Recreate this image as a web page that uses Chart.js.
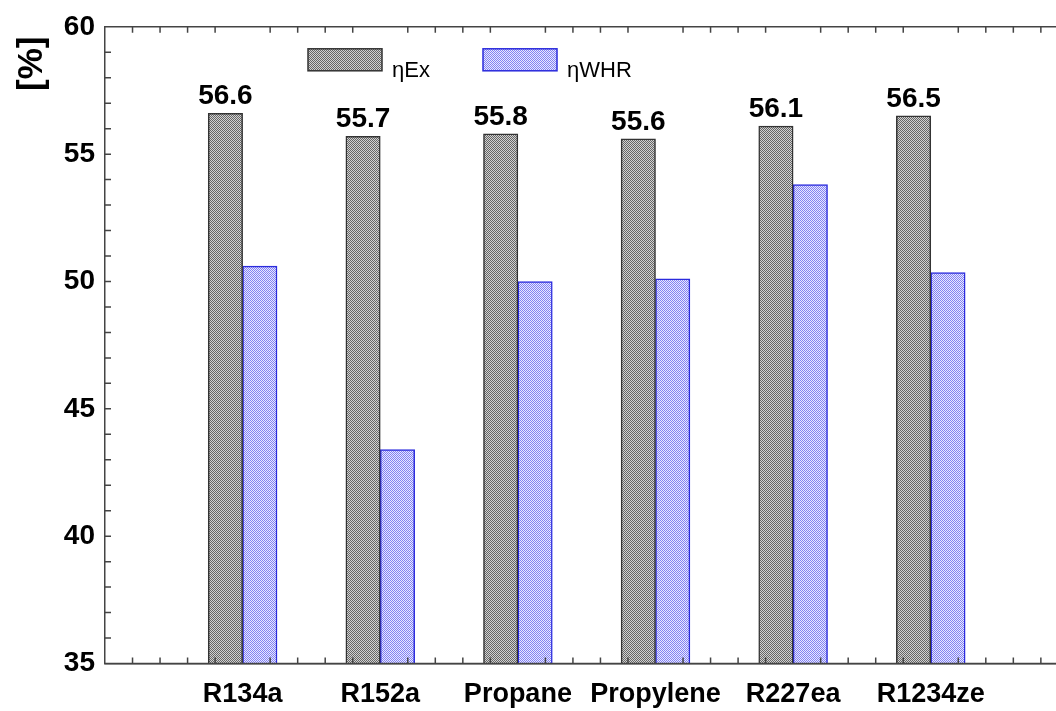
<!DOCTYPE html>
<html>
<head>
<meta charset="utf-8">
<script src="https://cdn.jsdelivr.net/npm/chart.js@4/dist/chart.umd.min.js"></script>
<style>
  html, body { margin: 0; padding: 0; background: #fff; overflow: hidden; }
</style>
</head>
<body>
<canvas id="myChart" width="1056" height="711"></canvas>
<script>
// data
const categories = ['R134a', 'R152a', 'Propane', 'Propylene', 'R227ea', 'R1234ze'];
const exergyEff = [56.6, 55.7, 55.8, 55.6, 56.1, 56.5];
const whrEff = [50.6, 43.4, 50.0, 50.1, 53.8, 50.35];
const seriesNames = ['ηEx', 'ηWHR'];
const yLabels = [35, 40, 45, 50, 55, 60];

const yMin = 35, yMax = 60;
const xMax = 6.91; // axis runs past the last group, picture is cropped on the right
const xMinorTicks = [];
for (let k = 1; k <= 34; k++) xMinorTicks.push(k / 5);

const axisColor = '#444';
const fontFam = '"Liberation Sans", Arial, sans-serif';
Chart.defaults.font.family = fontFam;

const canvas = document.getElementById('myChart');
const ctx = canvas.getContext('2d');

function checker(dark, light) {
    const c = document.createElement('canvas');
    c.width = 2; c.height = 2;
    const g = c.getContext('2d');
    g.fillStyle = light; g.fillRect(0, 0, 2, 2);
    g.fillStyle = dark; g.fillRect(0, 0, 1, 1); g.fillRect(1, 1, 1, 1);
    return ctx.createPattern(c, 'repeat');
}

const isWhole = v => Math.abs(v - Math.round(v)) < 1e-6;

// frame: top line, bottom line and inward tick marks
const frameTicks = {
    id: 'frameTicks',
    afterDatasetsDraw(chart) {
        const { ctx, chartArea: { left, right, top, bottom }, scales: { x, y } } = chart;
        ctx.save();
        ctx.strokeStyle = axisColor;
        ctx.lineWidth = 1.5;
        ctx.beginPath();
        ctx.moveTo(left, top); ctx.lineTo(right, top);
        ctx.moveTo(left, bottom); ctx.lineTo(right, bottom);
        y.ticks.forEach(t => {
            if (t.value <= y.min || t.value >= y.max) return;
            const py = y.getPixelForValue(t.value);
            ctx.moveTo(left, py); ctx.lineTo(left + 6, py);
        });
        x.ticks.forEach(t => {
            if (isWhole(t.value)) return;
            const px = x.getPixelForValue(t.value);
            ctx.moveTo(px, bottom); ctx.lineTo(px, bottom - 6);
            ctx.moveTo(px, top); ctx.lineTo(px, top + 6);
        });
        ctx.stroke();
        ctx.restore();
    }
};

// numbers above the grey bars
const valueLabels = {
    id: 'valueLabels',
    afterDatasetsDraw(chart) {
        const { ctx } = chart;
        const meta = chart.getDatasetMeta(0);
        ctx.save();
        ctx.font = 'bold 28px ' + fontFam;
        ctx.fillStyle = '#000';
        ctx.textAlign = 'center';
        ctx.textBaseline = 'alphabetic';
        meta.data.forEach((bar, i) => {
            ctx.fillText(exergyEff[i].toFixed(1), bar.x, bar.y - 9);
        });
        ctx.restore();
    }
};

// legend sits inside the plot, under the top axis
const insideLegend = {
    id: 'insideLegend',
    afterDatasetsDraw(chart) {
        const { ctx, chartArea } = chart;
        ctx.save();
        ctx.font = '22px ' + fontFam;
        ctx.textBaseline = 'alphabetic';
        let x = chartArea.left + 203;
        const y = chartArea.top + 22;
        chart.data.datasets.forEach(ds => {
            ctx.fillStyle = ds.backgroundColor;
            ctx.strokeStyle = ds.borderColor;
            ctx.lineWidth = 1.5;
            ctx.fillRect(x, y, 74, 22);
            ctx.strokeRect(x, y, 74, 22);
            ctx.fillStyle = '#000';
            ctx.fillText(ds.label, x + 84, y + 28);
            x += 175;
        });
        ctx.restore();
    }
};

new Chart(ctx, {
    type: 'bar',
    data: {
        datasets: [{
            label: seriesNames[0],
            data: exergyEff.map((v, i) => ({ x: i + 1, y: v })),
            backgroundColor: checker('#666', '#d2d2d2'),
            borderColor: '#333',
            borderWidth: 1.5,
            barThickness: 34.4,
        }, {
            label: seriesNames[1],
            data: whrEff.map((v, i) => ({ x: i + 1, y: v })),
            backgroundColor: checker('#8282f2', '#e8e8ff'),
            borderColor: '#2b2bdd',
            borderWidth: 1.5,
            barThickness: 34.4,
        }]
    },
    options: {
        responsive: false,
        animation: false,
        layout: { padding: { top: 23.5, left: 0, right: 0, bottom: 0 } },
        plugins: {
            legend: { display: false },
            tooltip: { enabled: false }
        },
        scales: {
            x: {
                type: 'linear',
                min: 0,
                max: xMax,
                bounds: 'data',
                offset: false,
                border: { display: true, color: axisColor, width: 1.5 },
                grid: { display: false, drawTicks: false, offset: false },
                afterBuildTicks: axis => { axis.ticks = xMinorTicks.map(v => ({ value: v })); },
                ticks: {
                    autoSkip: false,
                    maxRotation: 0,
                    padding: 15,
                    color: '#000',
                    font: { size: 27, weight: 'bold' },
                    callback: v => {
                        const k = Math.round(v);
                        return isWhole(v) && k >= 1 && k <= categories.length ? categories[k - 1] : '';
                    }
                },
                afterFit: s => { s.height = 47.5; }
            },
            y: {
                min: yMin,
                max: yMax,
                border: { display: true, color: axisColor, width: 1.5 },
                grid: { display: false, drawTicks: false },
                ticks: {
                    stepSize: 1,
                    autoSkip: false,
                    padding: 10,
                    color: '#000',
                    font: { size: 28, weight: 'bold' },
                    callback: v => yLabels.includes(v) ? v : ''
                },
                title: {
                    display: true,
                    text: '[%] ',
                    align: 'end',
                    color: '#000',
                    font: { size: 35, weight: 'bold' },
                    padding: { top: 11, bottom: 0 }
                },
                afterFit: s => { s.width = 105; }
            }
        }
    },
    plugins: [frameTicks, valueLabels, insideLegend]
});
</script>
</body>
</html>
